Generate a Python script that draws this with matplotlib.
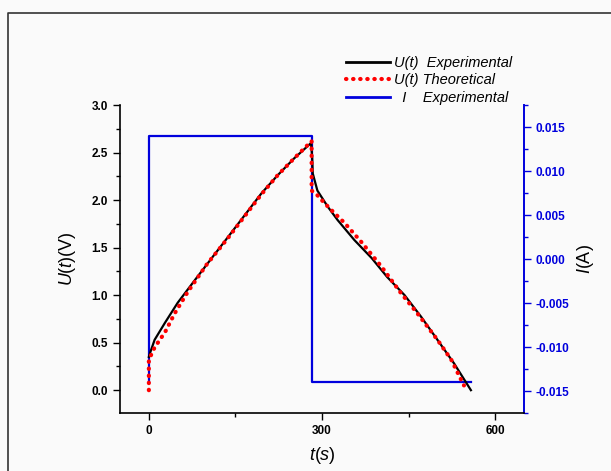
import matplotlib.pyplot as plt
from matplotlib.lines import Line2D
from matplotlib.ticker import MultipleLocator

plt.rcParams['font.family'] = ['Liberation Sans', 'DejaVu Sans']
plt.rcParams['mathtext.fontset'] = 'custom'
plt.rcParams['mathtext.rm'] = 'Liberation Sans'
plt.rcParams['mathtext.it'] = 'Liberation Sans:italic'

# measured voltage (charge then discharge)
t_exp = [0, 2, 10, 28, 50, 80, 109, 137, 166, 195, 223, 252, 281,
         283, 284, 292, 310, 327, 356, 386, 413, 443, 472, 500, 529, 558]
u_exp = [0.35, 0.39, 0.53, 0.71, 0.92, 1.16, 1.39, 1.61, 1.84, 2.07, 2.26, 2.44, 2.60,
         2.45, 2.28, 2.10, 1.93, 1.79, 1.58, 1.39, 1.19, 1.00, 0.77, 0.53, 0.28, 0.0]

# model voltage
t_th = [0, 0, 10, 28, 45, 67, 100, 137, 166, 195, 223, 252, 282,
        282, 292, 304, 322, 339, 368, 403, 437, 465, 500, 524, 541, 546]
u_th = [0.0, 0.32, 0.45, 0.61, 0.81, 1.03, 1.32, 1.60, 1.83, 2.06, 2.26, 2.44, 2.62,
        2.10, 2.05, 1.97, 1.86, 1.76, 1.56, 1.30, 1.02, 0.81, 0.53, 0.32, 0.11, 0.05]

# measured current
t_cur = [0, 0, 282, 282, 558]
i_cur = [-0.014, 0.014, 0.014, -0.014, -0.014]

RED_DOTS = dict(color='#ff0000', lw=3.0, dashes=(0.1, 1.6), dash_capstyle='round')

fig = plt.figure(figsize=(6.11, 4.71), dpi=100, facecolor='#fafafa')
fig.add_artist(Line2D([8/611, 8/611, 1], [0, 1-13/471, 1-13/471],
                      transform=fig.transFigure, color='#333333', lw=1.2))

ax = fig.add_axes([120/611, 1-413/471, 404/611, 308/471])
ax2 = ax.twinx()

ax2.plot(t_cur, i_cur, color='#0000dd', lw=1.6, zorder=1)
ax.plot(t_exp, u_exp, color='black', lw=1.6, zorder=3)
ax.plot(t_th, u_th, zorder=4, **RED_DOTS)
ax2.set_zorder(0)
ax.set_zorder(1)
ax.patch.set_visible(False)
ax2.patch.set_visible(True)
ax2.patch.set_facecolor('#fafafa')

ax.set_xlim(-50, 650)
ax.set_ylim(-0.24, 3.0)
ax2.set_ylim(-0.0175, 0.0175)

ax.set_xticks([0, 300, 600])
ax.xaxis.set_minor_locator(MultipleLocator(150))
ax.set_yticks([0.0, 0.5, 1.0, 1.5, 2.0, 2.5, 3.0])
ax.yaxis.set_minor_locator(MultipleLocator(0.25))
ax2.set_yticks([-0.015, -0.010, -0.005, 0.0, 0.005, 0.010, 0.015])
ax2.yaxis.set_minor_locator(MultipleLocator(0.0025))

for a in (ax, ax2):
    a.spines['top'].set_visible(False)
ax.spines['right'].set_visible(False)
ax2.spines['left'].set_visible(False)
ax2.spines['bottom'].set_visible(False)
ax2.spines['right'].set_color('#0000dd')
ax2.spines['right'].set_linewidth(1.4)
ax.spines['left'].set_linewidth(1.2)
ax.spines['bottom'].set_linewidth(1.2)

ax.tick_params(axis='both', which='major', length=5, width=1, labelsize=8.5, direction='out')
ax.tick_params(axis='both', which='minor', length=3, width=1, direction='out')
ax2.tick_params(axis='y', which='major', length=5, width=1, labelsize=8.5,
                colors='#0000dd', labelcolor='#0000dd')
ax2.tick_params(axis='y', which='minor', length=3, width=1, colors='#0000dd')
ax.set_xticklabels(['0', '300', '600'], fontweight='bold')
ax.set_yticklabels(['0.0', '0.5', '1.0', '1.5', '2.0', '2.5', '3.0'], fontweight='bold')
ax2.set_yticklabels(['-0.015', '-0.010', '-0.005', '0.000', '0.005', '0.010', '0.015'],
                    fontweight='bold')

ax.set_xlabel(r'$t(s)$', fontsize=13, labelpad=6)
ax.set_ylabel(r'$U(t)$(V)', fontsize=13, labelpad=10)
ax2.set_ylabel(r'$I$(A)', fontsize=13, labelpad=4)

handles = [Line2D([], [], color='black', lw=2),
           Line2D([], [], **RED_DOTS),
           Line2D([], [], color='#0000dd', lw=2)]
labels = ['U(t)  Experimental', 'U(t) Theoretical', '  I    Experimental']
fig.legend(handles, labels, loc='upper left', bbox_to_anchor=(340/611, 1-50/471),
           frameon=False, prop={'style': 'italic', 'size': 10.5},
           handlelength=3.0, handletextpad=0.3, labelspacing=0.25, borderaxespad=0)

fig.savefig('out.png', dpi=100, facecolor=fig.get_facecolor())
